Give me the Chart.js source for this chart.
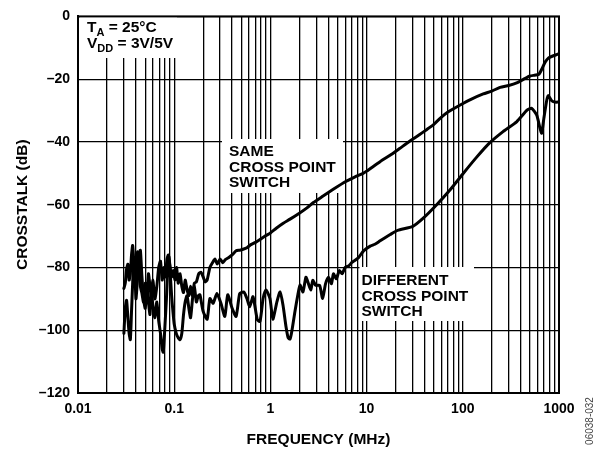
<!DOCTYPE html>
<html>
<head>
<meta charset="utf-8">
<script src="https://cdn.jsdelivr.net/npm/chart.js@4.4.1/dist/chart.umd.min.js"></script>
<style>
  html, body { margin: 0; padding: 0; background: #fff; }
  #wrap { width: 602px; height: 452px; position: relative; }
</style>
</head>
<body>
<div id="wrap"><canvas id="c" width="602" height="452"></canvas></div>
<script>
// ---------- DATA ----------
// Frequencies in MHz, crosstalk in dB
const sameFreq = [
  0.030,0.031,0.032,0.033,0.034,0.035,0.036,0.037,0.038,0.039,
  0.040,0.0415,0.043,0.0445,0.046,0.048,0.050,0.052,0.054,0.056,
  0.058,0.060,0.063,0.066,0.069,0.072,0.075,0.078,0.081,0.084,
  0.087,0.090,0.094,0.098,0.102,0.106,0.110,0.115,0.120,0.125,
  0.130,0.136,0.142,0.148,0.155,0.162,0.170,0.180,0.190,0.200,
  0.210,0.220,0.235,0.250,0.265,0.280,0.300,0.320,0.340,0.370,
  0.400,0.440,0.480,0.520,0.570,0.620,0.700,0.780,0.880,1.00,
  1.15,1.36,1.60,2.00,2.40,2.80,3.5,4.5,6.0,7.5,
  9.2,10,13.8,18,22,28,35,42,50,58,
  70,93,120,163,200,244,300,363,430,500,
  570,620,670,720,780,850,920,1000
];
const sameDb = [
  -86.7,-85,-80.5,-79,-84,-82,-76,-73,-78,-85,
  -80,-75,-79,-86,-88,-91,-85,-88.5,-82,-86,
  -90,-84,-90,-86,-80,-78,-84,-80,-83,-77.5,
  -76,-79,-83,-81,-84,-80,-85,-82,-86,-88,
  -84,-87,-89,-86,-89,-85,-84.6,-82,-81.5,-83,
  -84.6,-84,-80,-78.5,-77.3,-78.9,-77.3,-78.5,-77.5,-76.8,
  -76,-74.7,-74.5,-74.2,-73.7,-72.8,-72,-71.1,-70,-69,
  -67.5,-65.9,-64.6,-62.7,-61,-59.3,-57.3,-55.1,-52.7,-51.2,
  -50,-49.3,-46.3,-44,-42.1,-39.8,-37.8,-36.1,-34.4,-32.5,
  -30.5,-28.3,-26.5,-24.7,-23.8,-22.6,-22,-21.2,-20,-19,
  -18.7,-18.4,-16.5,-14.5,-13.2,-12.7,-12.3,-11.9
];
const diffFreq = [
  0.030,0.031,0.032,0.033,0.034,0.035,0.036,0.037,0.038,0.039,
  0.040,0.0415,0.043,0.0445,0.046,0.048,0.050,0.052,0.054,0.056,
  0.058,0.060,0.063,0.066,0.069,0.072,0.075,0.077,0.080,0.083,
  0.086,0.088,0.091,0.094,0.097,0.100,0.105,0.110,0.115,0.120,
  0.125,0.130,0.136,0.142,0.148,0.155,0.162,0.170,0.178,0.185,
  0.200,0.220,0.235,0.254,0.278,0.306,0.336,0.360,0.400,0.440,
  0.480,0.530,0.570,0.610,0.660,0.730,0.780,0.840,0.900,0.990,
  1.06,1.17,1.26,1.35,1.45,1.53,1.60,1.67,1.80,1.93,
  2.03,2.18,2.34,2.45,2.63,2.76,2.96,3.25,3.49,3.74,
  4.02,4.31,4.52,4.85,5.2,5.57,5.98,6.56,7.03,7.54,
  8.27,9.3,10.9,12.2,13.7,15.4,17.6,21,30.2,38.8,
  53.2,73.1,100,138,190,262,365,465,520,586,
  634,661,696,745,773,835,904,1000
];
const diffDb = [
  -101,-93,-90.5,-96,-101,-103,-94,-85,-77,-80,
  -90,-84,-76,-74.5,-82,-90,-93,-86,-91,-95,
  -88,-92,-96,-91,-97,-101,-106,-107,-99,-90,
  -80,-76.5,-82,-89,-94,-98,-101,-102.4,-103,-101,
  -95,-91,-89,-93,-96,-90,-86,-91,-89,-88.7,
  -94,-96.5,-89.9,-91.4,-88.3,-91.4,-95.6,-88.7,-93,-95.6,
  -88.3,-87.8,-89.9,-92.5,-89.3,-96.6,-97.2,-89.9,-87.2,-89.9,
  -96.5,-90.9,-87.8,-91.9,-98.7,-102.4,-102.8,-100.3,-94,-88.7,
  -85.6,-87.8,-83.1,-84.6,-87.2,-84.1,-85.7,-85.7,-89.9,-85.2,
  -83.1,-85.2,-82,-83.6,-81,-82,-80,-79.4,-78.4,-77.8,
  -76.8,-74.7,-73.2,-72.6,-71.6,-70.6,-69.5,-68.2,-66.9,-64.3,
  -60.1,-55.4,-50.2,-45,-40.3,-36.7,-33.5,-29.9,-29.3,-31.4,
  -35.6,-37.2,-32.5,-26.8,-25.2,-26.8,-27.3,-27.3
];
// Grid (tick) positions on the log frequency axis
const xGridTicks = [
  0.01,0.02,0.03,0.04,0.05,0.06,0.07,0.08,0.09,
  0.1,0.2,0.3,0.4,0.5,0.6,0.7,0.8,0.9,
  1,2,3,4,5,6,7,8,9,
  10,20,30,40,50,60,70,80,90,
  100,200,300,400,500,600,700,800,900,
  1000
];
const xLabelValues = [0.01, 0.1, 1, 10, 100, 1000];
const xLabelTexts  = ['0.01', '0.1', '1', '10', '100', '1000'];
const yTickValues  = [-120, -100, -80, -60, -40, -20, 0];
const yTickTexts   = ['–120', '–100', '–80', '–60', '–40', '–20', '0'];

// ---------- CHART ----------
const FONT = '"Liberation Sans", Arial, Helvetica, sans-serif';

function toPoints(fs, ds) { return fs.map((f, i) => ({ x: f, y: ds[i] })); }

const overlay = {
  id: 'overlay',
  beforeDatasetsDraw(chart) {
    const ctx = chart.ctx;
    ctx.save();
    ctx.fillStyle = '#fff';
    ctx.fillRect(80, 11, 97, 47);     // T_A / V_DD box
    ctx.fillRect(222, 139, 121, 54);  // SAME box
    ctx.fillRect(359.5, 267, 114.5, 54); // DIFFERENT box
    ctx.restore();
  },
  afterDatasetsDraw(chart) {
    const ctx = chart.ctx;
    const a = chart.chartArea;
    ctx.save();
    ctx.fillStyle = '#000';
    ctx.textBaseline = 'alphabetic';
    ctx.textAlign = 'left';
    const big = 'bold 15.5px ' + FONT;
    const sub = 'bold 11px ' + FONT;
    function subText(x, y, main, s, rest) {
      ctx.font = big; ctx.fillText(main, x, y);
      let w = ctx.measureText(main).width;
      ctx.font = sub; ctx.fillText(s, x + w, y + 4);
      w += ctx.measureText(s).width;
      ctx.font = big; ctx.fillText(rest, x + w, y);
    }
    subText(87, 31.5, 'T', 'A', ' = 25°C');
    subText(87, 48, 'V', 'DD', ' = 3V/5V');

    ctx.font = big;
    ['SAME', 'CROSS POINT', 'SWITCH'].forEach((t, i) => ctx.fillText(t, 229, 156 + i * 15.5));
    ['DIFFERENT', 'CROSS POINT', 'SWITCH'].forEach((t, i) => ctx.fillText(t, 361.5, 285 + i * 15.7));

    // axis titles
    ctx.textAlign = 'center';
    ctx.font = big;
    ctx.fillText('FREQUENCY (MHz)', (a.left + a.right) / 2, 444);
    ctx.save();
    ctx.translate(23, (a.top + a.bottom) / 2);
    ctx.rotate(-Math.PI / 2);
    ctx.textBaseline = 'middle';
    ctx.fillText('CROSSTALK (dB)', 0, 0);
    ctx.restore();

    // figure code
    ctx.save();
    ctx.translate(590, 421);
    ctx.rotate(-Math.PI / 2);
    ctx.textBaseline = 'middle';
    ctx.font = '10px ' + FONT;
    ctx.fillStyle = '#444';
    ctx.fillText('06038-032', 0, 0);
    ctx.restore();

    // frame
    ctx.strokeStyle = '#000';
    ctx.lineWidth = 2;
    ctx.strokeRect(a.left, a.top, a.right - a.left, a.bottom - a.top);
    ctx.restore();
  }
};

new Chart(document.getElementById('c'), {
  type: 'line',
  data: {
    datasets: [
      { label: 'SAME CROSS POINT SWITCH', data: toPoints(sameFreq, sameDb),
        borderColor: '#000', borderWidth: 3, pointRadius: 0, tension: 0.2,
        borderJoinStyle: 'round', borderCapStyle: 'round', fill: false },
      { label: 'DIFFERENT CROSS POINT SWITCH', data: toPoints(diffFreq, diffDb),
        borderColor: '#000', borderWidth: 3, pointRadius: 0, tension: 0.2,
        borderJoinStyle: 'round', borderCapStyle: 'round', fill: false }
    ]
  },
  options: {
    responsive: false,
    animation: false,
    devicePixelRatio: 1,
    layout: { padding: { top: 9.5, right: 43, left: 0, bottom: 0 } },
    plugins: { legend: { display: false }, tooltip: { enabled: false } },
    scales: {
      x: {
        type: 'logarithmic',
        min: 0.01, max: 1000,
        afterBuildTicks: (s) => { s.ticks = xGridTicks.map(v => ({ value: v })); },
        afterFit: (s) => { s.height = 59; },
        grid: { color: '#000', lineWidth: 1.3, drawTicks: false },
        border: { display: true, color: '#000', width: 2 },
        ticks: {
          autoSkip: false, maxRotation: 0, minRotation: 0, padding: 8,
          color: '#000', font: { family: FONT, size: 14, weight: 'bold' },
          callback: (v) => { const i = xLabelValues.indexOf(v); return i >= 0 ? xLabelTexts[i] : ''; }
        }
      },
      y: {
        type: 'linear',
        min: -120, max: 0,
        afterBuildTicks: (s) => { s.ticks = yTickValues.map(v => ({ value: v })); },
        afterFit: (s) => { s.width = 78; },
        grid: { color: '#000', lineWidth: 1.3, drawTicks: false },
        border: { display: true, color: '#000', width: 2 },
        ticks: {
          padding: 8, color: '#000', font: { family: FONT, size: 14, weight: 'bold' },
          callback: (v) => { const i = yTickValues.indexOf(v); return i >= 0 ? yTickTexts[i] : ''; }
        }
      }
    }
  },
  plugins: [overlay]
});
</script>
</body>
</html>
